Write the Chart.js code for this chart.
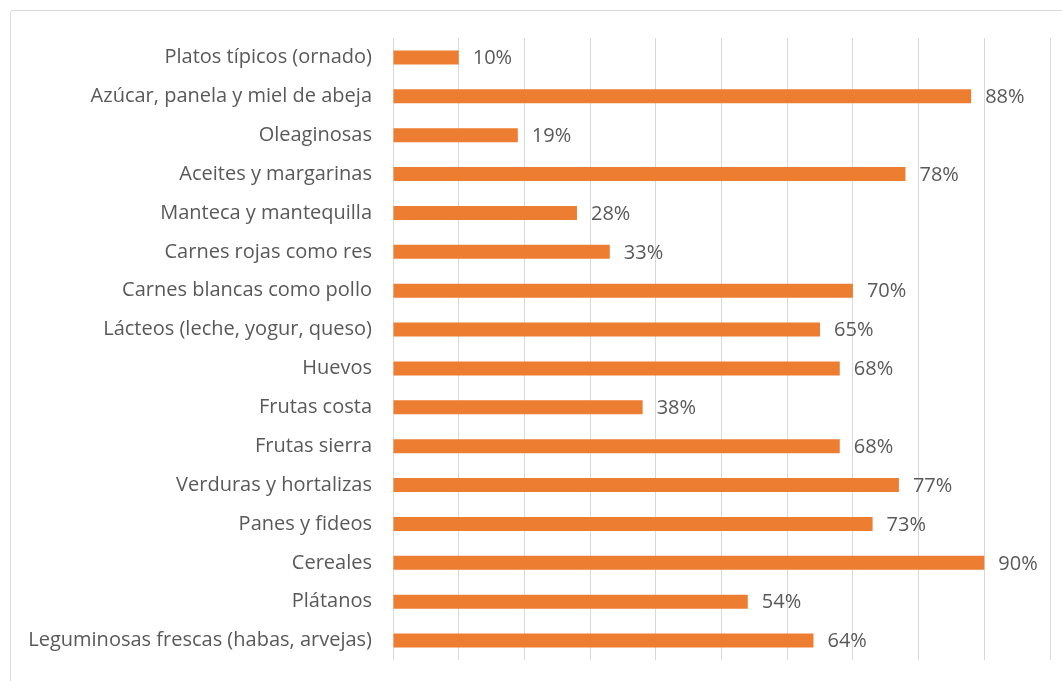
<!DOCTYPE html>
<html>
<head>
<meta charset="utf-8">
<script src="https://cdn.jsdelivr.net/npm/chart.js@4.4.0/dist/chart.umd.min.js"></script>
<style>
  html, body { margin: 0; padding: 0; background: #fff; overflow: hidden; }
  #marco { position: absolute; left: 10px; top: 10px; width: 1100px; height: 720px;
           border: 1px solid #d9d9d9; border-radius: 3px; }
  #contenedor { position: absolute; left: 0; top: 0; width: 1062px; height: 681px; }
</style>
</head>
<body>
<div id="marco"></div>
<div id="contenedor"><canvas id="grafico"></canvas></div>
<script>
// Datos del gráfico (de arriba hacia abajo)
const categorias = [
  'Platos típicos (ornado)',
  'Azúcar, panela y miel de abeja',
  'Oleaginosas',
  'Aceites y margarinas',
  'Manteca y mantequilla',
  'Carnes rojas como res',
  'Carnes blancas como pollo',
  'Lácteos (leche, yogur, queso)',
  'Huevos',
  'Frutas costa',
  'Frutas sierra',
  'Verduras y hortalizas',
  'Panes y fideos',
  'Cereales',
  'Plátanos',
  'Leguminosas frescas (habas, arvejas)'
];
const porcentajes = [10, 88, 19, 78, 28, 33, 70, 65, 68, 38, 68, 77, 73, 90, 54, 64];
const ejeMin = 0;
const ejeMax = 100;
const ejePaso = 10;

const naranja = '#ED7D31';
const gris = '#595959';
const fuente = '"Open Sans", Lato, sans-serif';

// Plugin para escribir el porcentaje al final de cada barra
const etiquetasValor = {
  id: 'etiquetasValor',
  afterDatasetsDraw(chart) {
    const ctx = chart.ctx;
    const meta = chart.getDatasetMeta(0);
    ctx.save();
    ctx.font = '20px ' + fuente;
    ctx.fillStyle = gris;
    ctx.textAlign = 'left';
    ctx.textBaseline = 'middle';
    meta.data.forEach((barra, i) => {
      ctx.fillText(porcentajes[i] + '%', barra.x + 14, barra.y + 1);
    });
    ctx.restore();
  }
};

const ctx = document.getElementById('grafico').getContext('2d');
const chart = new Chart(ctx, {
  type: 'bar',
  data: {
    labels: categorias,
    datasets: [{
      data: porcentajes,
      backgroundColor: naranja,
      borderWidth: 0,
      barPercentage: 0.9,
      categoryPercentage: 0.4
    }]
  },
  options: {
    indexAxis: 'y',
    responsive: true,
    maintainAspectRatio: false,
    animation: false,
    layout: { padding: { top: 38, bottom: 21, left: 0, right: 12 } },
    plugins: {
      legend: { display: false },
      tooltip: { enabled: false }
    },
    scales: {
      x: {
        min: ejeMin,
        max: ejeMax,
        ticks: { display: false, stepSize: ejePaso },
        grid: { color: '#d9d9d9', lineWidth: 1, drawTicks: false },
        border: { display: false },
        afterFit(escala) { escala.height = 0; }
      },
      y: {
        grid: { display: false },
        border: { display: false },
        ticks: {
          color: gris,
          font: { family: fuente, size: 20 },
          padding: 13
        },
        afterFit(escala) {
          escala.width = 393;
          escala.paddingTop = 0;
          escala.paddingBottom = 0;
        }
      }
    }
  },
  plugins: [etiquetasValor]
});
</script>
</body>
</html>
